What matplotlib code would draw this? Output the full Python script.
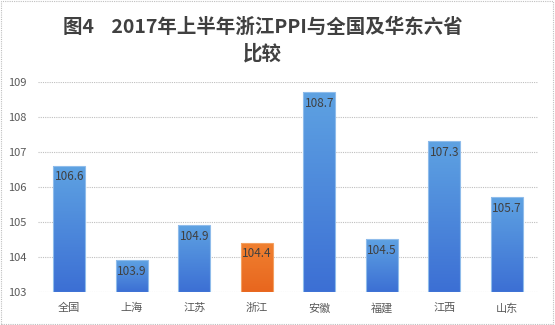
import matplotlib
matplotlib.use("Agg")
import matplotlib.pyplot as plt
import numpy as np
from matplotlib.colors import LinearSegmentedColormap
from matplotlib.patches import Rectangle

plt.rcParams['font.family'] = ['Noto Sans CJK SC', 'DejaVu Sans']

categories = ['全国', '上海', '江苏', '浙江', '安徽', '福建', '江西', '山东']
values = [106.6, 103.9, 104.9, 104.4, 108.7, 104.5, 107.3, 105.7]
labels = ['106.6', '103.9', '104.9', '104.4', '108.7', '104.5', '107.3', '105.7']
yticks = [103, 104, 105, 106, 107, 108, 109]
highlight = '浙江'

fig = plt.figure(figsize=(5.55, 3.25), dpi=100)
ax = fig.add_axes([38/555, 1-292/325, 500/555, 210/325])

blue_cmap = LinearSegmentedColormap.from_list('b', ['#3C6FD4', '#5EA2E2'])
orange_cmap = LinearSegmentedColormap.from_list('o', ['#E8661E', '#F08030'])

x = np.arange(len(categories))
w = 0.51
bars = ax.bar(x, [v - 103 for v in values], bottom=103, width=w, color='none', edgecolor='none', zorder=3)
grad = np.linspace(0, 1, 256).reshape(-1, 1)
for i, (b, cat, v, lab) in enumerate(zip(bars, categories, values, labels)):
    cm = orange_cmap if cat == highlight else blue_cmap
    x0 = b.get_x()
    im = ax.imshow(grad, extent=[x0, x0 + w, 103, v], origin='lower', aspect='auto', cmap=cm, zorder=3)
    rect = Rectangle((x0, 103), w, v - 103, transform=ax.transData, facecolor='none')
    ax.add_patch(rect)
    rect.set_visible(False)
    im.set_clip_path(rect)
    edge = '#F4A060' if cat == highlight else '#8FBCEB'
    ax.add_patch(Rectangle((x0, 103), w, v - 103, facecolor='none', edgecolor=edge, linewidth=0.8, zorder=4))
    ax.text(x[i], v - 0.12, lab, ha='center', va='top', fontsize=8.5, color='#404040', zorder=5)

ax.set_xlim(-0.5, len(categories) - 0.5)
ax.set_ylim(103, 109)
ax.set_yticks(yticks)
ax.set_yticklabels([str(t) for t in yticks])
ax.set_xticks(x)
ax.set_xticklabels(categories)
ax.tick_params(axis='both', length=0, labelsize=8, colors='#595959')
ax.tick_params(axis='x', pad=8)
ax.tick_params(axis='y', pad=8)
for s in ax.spines.values():
    s.set_visible(False)
ax.grid(axis='y', color='#BFBFBF', linestyle=(0, (1, 1)), linewidth=0.8, zorder=0)
ax.set_axisbelow(True)

fig.text(0.473, 1-27/325, '图4    2017年上半年浙江PPI与全国及华东六省', ha='center', va='center',
         fontsize=14, fontweight='bold', color='#404040')
fig.text(0.473, 1-54/325, '比较', ha='center', va='center', fontsize=14, fontweight='bold', color='#404040')

fig.patches.append(Rectangle((0.002, 0.003), 0.995, 0.994, transform=fig.transFigure, fill=False,
                             edgecolor='#BFBFBF', linestyle=(0, (1, 1)), linewidth=0.8))

fig.savefig('out.png', dpi=100)
